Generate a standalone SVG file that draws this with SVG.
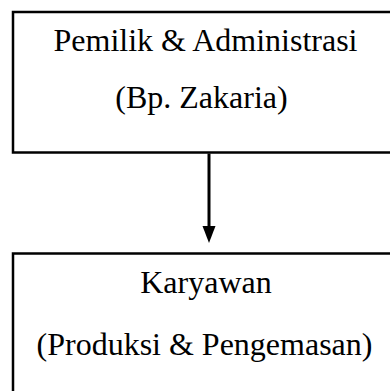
<svg xmlns="http://www.w3.org/2000/svg" width="390" height="391" viewBox="0 0 390 391">
<style>
.box{fill:none;stroke:#000;stroke-width:2.5}
.t{font-family:"Liberation Serif","Times New Roman",serif;font-size:32px;fill:#000;text-anchor:middle}
.line{stroke:#000;stroke-width:3}
</style>
<rect width="390" height="391" fill="#fff"/>
<g id="node-owner">
<rect class="box" x="13" y="12" width="400" height="140.5"/>
<text class="t" x="205.5" y="51">Pemilik &amp; Administrasi</text>
<text class="t" x="201.5" y="108">(Bp. Zakaria)</text>
</g>
<g id="node-staff">
<rect class="box" x="13" y="253.5" width="400" height="160"/>
<text class="t" x="206" y="293">Karyawan</text>
<text class="t" x="204.5" y="355">(Produksi &amp; Pengemasan)</text>
</g>
<g id="connectors">
<line class="line" x1="209" y1="153.5" x2="209" y2="226"/>
<path d="M202.5,226 L215.5,226 L209,243 Z" fill="#000"/>
</g>
</svg>
